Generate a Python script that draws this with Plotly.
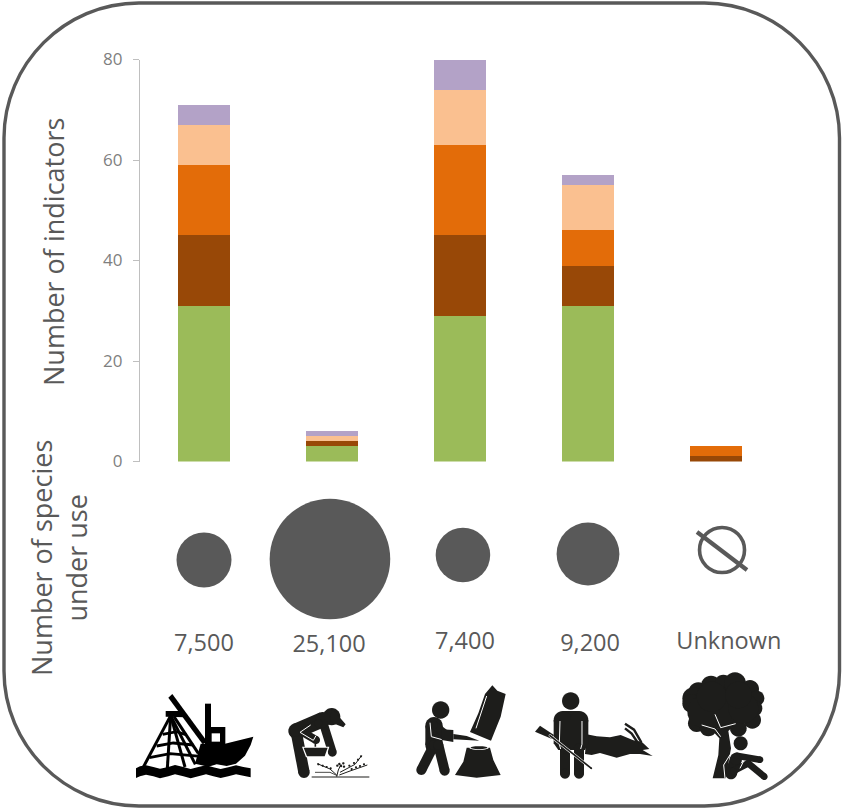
import math
import plotly.graph_objects as go

# ---------- data ----------
categories = ["Fishing", "Gathering", "Logging", "Hunting", "Non-extractive"]
series_names = ["Green", "Dark brown", "Orange", "Light orange", "Purple"]
green = [31, 3, 29, 31, 0]
dark_brown = [14, 1, 16, 8, 1]
orange = [14, 0, 18, 7, 2]
light_orange = [8, 1, 11, 9, 0]
purple = [4, 1, 6, 2, 0]
species_under_use = [7500, 25100, 7400, 9200, None]
species_labels = ["7,500", "25,100", "7,400", "9,200", "Unknown"]
y_ticks = [0, 20, 40, 60, 80]

# ---------- layout constants ----------
W, H = 842, 808
INK = "#1d1d1b"
GREY = "#595959"
series_values = [green, dark_brown, orange, light_orange, purple]
series_colors = ["#9BBB59", "#984807", "#E36C09", "#FAC090", "#B3A2C7"]
x_pos = list(range(len(categories)))
band_top, band_bottom = 480, 680   # pixel band of the lower (circle) row
circle_dx = [0, -0.016, 0.023, 0, 0.047]
circle_row = [560, 559, 555, 554, 550]
label_dx = [0, -0.023, 0.039, 0.016, 0.10]
label_row = [645, 646, 643, 645, 643]

# ---------- helpers for pictograms (pixel coords -> paper) ----------
shapes = []
def px(x, y):
    return x / W, 1 - y / H
def fmt(x, y):
    a, b = px(x, y)
    return f"{a:.5f},{b:.5f}"
def path(d, fill=INK, lw=0, color=None):
    s = dict(type="path", xref="paper", yref="paper", path=d, layer="above",
             line=dict(width=lw, color=color or fill))
    s["fillcolor"] = fill if fill else "rgba(0,0,0,0)"
    shapes.append(s)
class Icon:
    def __init__(self, ox, oy):
        self.ox, self.oy = ox, oy
    def m(self, p):
        return self.ox + p[0] / 3, self.oy + p[1] / 3
    def poly(self, pts, fill=INK):
        d = "M" + "L".join(fmt(*self.m(p)) for p in pts) + "Z"
        path(d, fill)
    def circle(self, c, r, fill=INK):
        n = 28
        self.poly([(c[0] + r * math.cos(2 * math.pi * i / n),
                    c[1] + r * math.sin(2 * math.pi * i / n)) for i in range(n)], fill)
    def ellipse(self, c, rx, ry, fill=INK):
        n = 28
        self.poly([(c[0] + rx * math.cos(2 * math.pi * i / n),
                    c[1] + ry * math.sin(2 * math.pi * i / n)) for i in range(n)], fill)
    def limb(self, pts, w, fill=INK):
        for a, b in zip(pts[:-1], pts[1:]):
            dx, dy = b[0] - a[0], b[1] - a[1]
            L = math.hypot(dx, dy) or 1
            nx, ny = -dy / L * w / 2, dx / L * w / 2
            self.poly([(a[0] + nx, a[1] + ny), (b[0] + nx, b[1] + ny),
                       (b[0] - nx, b[1] - ny), (a[0] - nx, a[1] - ny)], fill)
        for p in pts:
            self.circle(p, w / 2, fill)
    def line(self, pts, lw=1.0, color=INK):
        d = "M" + "L".join(fmt(*self.m(p)) for p in pts)
        path(d, None, lw, color)

# ---- frame ----
L_, T_, R_, B_, r_ = 4, 3, 839.5, 806, 135
k = r_ * 0.45
frame = ("M" + fmt(L_ + r_, T_) + "L" + fmt(R_ - r_, T_)
         + "C" + fmt(R_ - k, T_) + " " + fmt(R_, T_ + k) + " " + fmt(R_, T_ + r_)
         + "L" + fmt(R_, B_ - r_)
         + "C" + fmt(R_, B_ - k) + " " + fmt(R_ - k, B_) + " " + fmt(R_ - r_, B_)
         + "L" + fmt(L_ + r_, B_)
         + "C" + fmt(L_ + k, B_) + " " + fmt(L_, B_ - k) + " " + fmt(L_, B_ - r_)
         + "L" + fmt(L_, T_ + r_)
         + "C" + fmt(L_, T_ + k) + " " + fmt(L_ + k, T_) + " " + fmt(L_ + r_, T_) + "Z")
path(frame, None, 3.4, GREY)

# ---- boat ----
b = Icon(130, 685)
for end in [(38, 250), (112, 250), (165, 246), (196, 238)]:
    b.line([(122, 92), end], 3.0, "#000")
b.line([(132, 95), (205, 205)], 3.0, "#000")
b.line([(98, 148), (140, 140), (170, 150)], 2.8, "#000")
b.line([(80, 183), (130, 174), (190, 180)], 2.8, "#000")
b.line([(58, 218), (120, 206), (212, 214)], 2.8, "#000")
b.poly([(115, 38), (127, 27), (232, 170), (218, 178)], "#000")
b.poly([(107, 78), (150, 78), (165, 97), (107, 95)], "#000")
b.poly([(225, 56), (243, 56), (243, 130), (225, 130)], "#000")
b.poly([(225, 126), (286, 126), (286, 178), (225, 178)], "#000")
b.poly([(245, 145), (270, 145), (270, 170), (245, 170)], "#fff")
b.poly([(212, 176), (285, 176), (370, 155), (362, 180), (345, 212), (318, 236), (290, 243), (260, 238),
        (235, 245), (212, 240), (195, 236)], "#000")
b.poly([(18, 250), (30, 244), (48, 241), (70, 246), (90, 251), (115, 246), (135, 240), (160, 246), (182, 252),
        (205, 246), (228, 241), (250, 247), (272, 252), (295, 247), (318, 241), (340, 246), (362, 250),
        (362, 277), (340, 272), (318, 268), (295, 274), (272, 279), (250, 274), (228, 268), (205, 274),
        (182, 280), (160, 274), (135, 268), (115, 274), (90, 280), (70, 274), (48, 269), (30, 274), (18, 279)], "#000")

# ---- gatherer ----
g = Icon(280, 695)
g.circle((155, 65), 26)
g.poly([(158, 40), (180, 68), (197, 88), (190, 97), (165, 87), (148, 72)])
g.limb([(128, 74), (48, 108)], 46)
g.limb([(48, 108), (72, 232)], 34)
g.limb([(130, 85), (157, 172)], 26)
g.limb([(115, 85), (68, 112), (108, 135)], 24)
g.line([(92, 90), (60, 112), (100, 136), (108, 122)], 1.0, "#fff")
g.line([(106, 135), (106, 156)], 1.6, INK)
g.poly([(66, 155), (148, 155), (138, 187), (78, 187)], "#fff")
g.poly([(71, 158), (143, 158), (134, 184), (81, 184)])
g.line([(95, 246), (268, 246)], 1.2)
g.line([(170, 245), (175, 225), (183, 208)], 1.0)
g.line([(170, 240), (150, 222), (112, 206)], 1.0)
g.line([(178, 240), (210, 228), (262, 210)], 1.0)
g.line([(105, 232), (150, 232), (172, 242)], 0.8)
g.line([(180, 232), (225, 208), (245, 182)], 1.0)
for p in [(115, 208), (128, 212), (140, 216), (152, 220), (215, 222), (228, 217), (240, 213), (252, 208),
          (208, 212), (222, 204), (234, 194), (243, 184)]:
    g.circle(p, 3.2)
for p in [(178, 207), (190, 205), (183, 213), (192, 215), (172, 212)]:
    g.circle(p, 3.6)

# ---- logger ----
l = Icon(410, 680)
l.circle((92, 90), 26)
l.limb([(72, 137), (72, 195)], 52)
l.limb([(72, 195), (34, 270)], 30)
l.limb([(85, 195), (104, 272)], 30)
l.limb([(72, 135), (110, 165)], 24)
l.line([(60, 128), (64, 170), (100, 180)], 1.0, "#fff")
l.poly([(95, 148), (130, 150), (130, 186), (95, 180)])
l.poly([(130, 162), (170, 168), (208, 182), (170, 180), (130, 178)])
l.poly([(247, 16), (262, 32), (287, 42), (272, 110), (243, 182), (180, 156), (205, 100), (225, 42)])
l.line([(230, 48), (198, 145)], 1.0, "#fff")
l.poly([(170, 203), (240, 203), (250, 240), (272, 285), (200, 293), (135, 285), (160, 245)])
l.ellipse((207, 203), 29, 7, "#fff")
l.ellipse((207, 203), 25, 4.5)

# ---- hunter + antelope ----
h = Icon(530, 685)
h.poly([(170, 148), (200, 154), (240, 157), (272, 150), (310, 166), (335, 170), (358, 192), (338, 195),
        (368, 213), (330, 207), (300, 207), (260, 218), (210, 204), (185, 210), (165, 207)])
h.line([(285, 116), (312, 134), (334, 172)], 2.4)
h.line([(285, 130), (305, 146), (324, 174)], 2.4)
h.circle((122, 48), 26)
h.limb([(98, 105), (148, 105)], 54)
h.poly([(71, 105), (175, 105), (175, 175), (165, 195), (85, 195), (71, 175)])
h.limb([(105, 190), (105, 266)], 30)
h.limb([(147, 190), (147, 266)], 30)
h.line([(90, 108), (88, 178), (92, 192)], 1.0, "#fff")
h.line([(156, 108), (156, 178), (152, 192)], 1.0, "#fff")
h.poly([(15, 140), (30, 122), (72, 150), (66, 162)])
h.limb([(60, 152), (184, 250)], 8, "#fff")
h.limb([(60, 152), (184, 250)], 5)

# ---- tree + person ----
t = Icon(675, 665)
for c, r in [((150, 115), 78), ((70, 82), 30), ((108, 62), 30), ((145, 55), 26), ((180, 55), 33), ((225, 72), 27),
             ((245, 100), 23), ((55, 100), 33), ((50, 115), 28), ((238, 130), 24), ((232, 165), 26), ((190, 190), 25),
             ((65, 175), 26), ((100, 188), 26), ((85, 140), 48), ((205, 130), 45), ((110, 95), 45), ((190, 90), 40)]:
    t.circle(c, r)
t.poly([(122, 150), (140, 185), (182, 178), (160, 198), (168, 250), (152, 340), (113, 340), (130, 270), (133, 220),
        (110, 195), (80, 180), (130, 190)])
t.line([(120, 148), (137, 188), (182, 176)], 1.0, "#fff")
t.line([(80, 180), (120, 192), (137, 215)], 1.0, "#fff")
t.circle((197, 235), 21)
t.limb([(183, 282), (168, 325)], 36)
t.limb([(185, 272), (255, 284)], 20)
t.limb([(175, 318), (220, 295), (268, 335)], 20)
t.line([(166, 268), (146, 300), (150, 340)], 1.0, "#fff")
t.line([(205, 290), (195, 310)], 1.0, "#fff")

# ---- null symbol slash ----
path("M" + fmt(697, 532) + "L" + fmt(747, 570), None, 4.2, GREY)

# ---------- figure ----------
fig = go.Figure()
for name, vals, col in zip(series_names, series_values, series_colors):
    fig.add_trace(go.Bar(x=x_pos, y=vals, name=name, marker=dict(color=col, line=dict(width=0)),
                         customdata=categories, hovertemplate="%{customdata}: %{y}<extra></extra>"))

known = [i for i, v in enumerate(species_under_use) if v is not None]
fig.add_trace(go.Scatter(
    x=[x_pos[i] + circle_dx[i] for i in known], y=[circle_row[i] for i in known],
    yaxis="y2", mode="markers", hoverinfo="skip", cliponaxis=False,
    marker=dict(size=[55 * (species_under_use[i] / 7500) ** 0.65 for i in known], color=GREY, opacity=1,
                line=dict(width=0))))
unk = [i for i, v in enumerate(species_under_use) if v is None]
fig.add_trace(go.Scatter(
    x=[x_pos[i] + circle_dx[i] for i in unk], y=[circle_row[i] for i in unk],
    yaxis="y2", mode="markers", hoverinfo="skip", cliponaxis=False,
    marker=dict(size=45, symbol="circle-open", color=GREY, line=dict(width=3.6, color=GREY))))
fig.add_trace(go.Scatter(
    x=[x + d for x, d in zip(x_pos, label_dx)], y=label_row, yaxis="y2", mode="text", cliponaxis=False,
    text=species_labels, textfont=dict(family="Open Sans", size=23.5, color=GREY),
    textposition="middle center", hoverinfo="skip"))

fig.update_layout(
    template="none",
    width=W, height=H, margin=dict(l=0, r=0, t=0, b=0, pad=0), autosize=False,
    paper_bgcolor="white", plot_bgcolor="rgba(0,0,0,0)", showlegend=False,
    barmode="stack", bargap=1 - 52 / 128,
    xaxis=dict(domain=[140 / W, 780 / W], range=[-0.5, 4.5], showgrid=False, zeroline=False, automargin=False,
               showticklabels=False, ticks="", showline=False, anchor="y"),
    yaxis=dict(domain=[1 - 461.5 / H, 1 - 59.5 / H], range=[0, 80], tickvals=y_ticks, showgrid=False,
               automargin=False, zeroline=False, showline=True, linecolor="#BFBFBF", linewidth=1.3,
               ticks="outside", ticklen=6, tickcolor="#BFBFBF", tickwidth=1.3, ticklabelstandoff=7,
               tickfont=dict(family="Open Sans", size=17, color="#7f7f7f"), anchor="x"),
    yaxis2=dict(domain=[1 - band_bottom / H, 1 - band_top / H], range=[band_bottom, band_top], visible=False,
                automargin=False, anchor="x"),
    shapes=shapes,
    annotations=[
        dict(text="Number of indicators", xref="paper", yref="paper", x=53 / W, y=1 - 252 / H, showarrow=False,
             xanchor="center", yanchor="middle", textangle=-90, font=dict(family="Open Sans", size=27, color=GREY)),
        dict(text="Number of species<br>under use", xref="paper", yref="paper", x=59 / W, y=1 - 558 / H,
             xanchor="center", yanchor="middle", showarrow=False, textangle=-90, align="center",
             font=dict(family="Open Sans", size=27, color=GREY)),
    ],
)
fig.write_html("out.html", config={"displayModeBar": False}, post_script="document.body.style.margin='0';")
